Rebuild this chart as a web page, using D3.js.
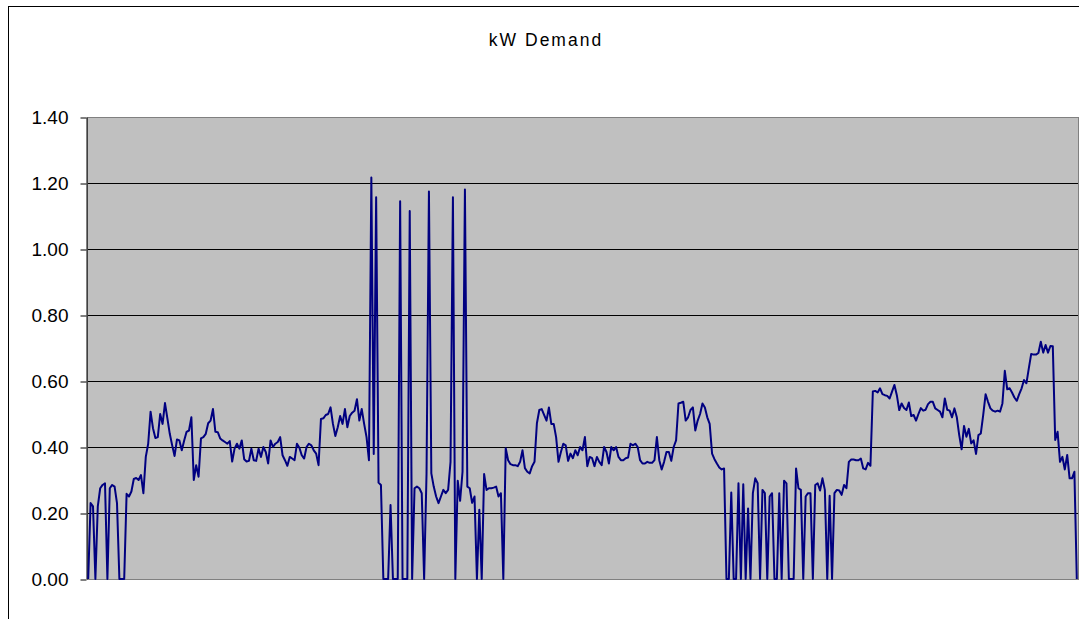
<!DOCTYPE html>
<html>
<head>
<meta charset="utf-8">
<script src="https://cdn.jsdelivr.net/npm/d3@7"></script>
<style>
  html, body { margin: 0; padding: 0; background: #fff; }
  svg { display: block; }
</style>
</head>
<body>
<svg id="chart" width="1079" height="619"></svg>
<script>
const title = "kW Demand";
const yTicks = [0, 0.2, 0.4, 0.6, 0.8, 1.0, 1.2, 1.4];
const demand = [
  0, 0.23, 0.22, 0, 0.22, 0.275, 0.285, 0.29, 0, 0.275,
  0.285, 0.28, 0.23, 0, 0, 0, 0.258, 0.25, 0.265, 0.303,
  0.306, 0.30, 0.315, 0.26, 0.37, 0.41, 0.507, 0.457, 0.427, 0.43,
  0.50, 0.47, 0.533, 0.487, 0.44, 0.405, 0.373, 0.423, 0.42, 0.39,
  0.42, 0.446, 0.45, 0.49, 0.30, 0.345, 0.31, 0.426, 0.43, 0.44,
  0.472, 0.48, 0.515, 0.446, 0.445, 0.426, 0.42, 0.415, 0.41, 0.418,
  0.356, 0.395, 0.41, 0.395, 0.42, 0.363, 0.356, 0.358, 0.395, 0.36,
  0.358, 0.395, 0.37, 0.40, 0.385, 0.35, 0.42, 0.40, 0.41, 0.415,
  0.43, 0.375, 0.36, 0.343, 0.37, 0.365, 0.36, 0.41, 0.398, 0.375,
  0.365, 0.40, 0.41, 0.405, 0.39, 0.38, 0.345, 0.485, 0.487, 0.497,
  0.50, 0.52, 0.47, 0.433, 0.46, 0.494, 0.47, 0.515, 0.46, 0.494,
  0.504, 0.51, 0.545, 0.48, 0.515, 0.47, 0.43, 0.36, 1.217, 0.379,
  1.157, 0.292, 0.285, 0, 0, 0, 0.224, 0, 0, 0,
  1.145, 0, 0, 0, 1.115, 0, 0.275, 0.28, 0.275, 0.26,
  0, 0.32, 1.174, 0.32, 0.28, 0.25, 0.23, 0.25, 0.27, 0.26,
  0.27, 0.355, 1.157, 0, 0.298, 0.237, 0.325, 1.18, 0.28, 0.275,
  0.231, 0.25, 0, 0.21, 0, 0.318, 0.27, 0.275, 0.275, 0.277,
  0.28, 0.25, 0.26, 0, 0.396, 0.36, 0.348, 0.345, 0.345, 0.342,
  0.355, 0.39, 0.336, 0.325, 0.32, 0.342, 0.355, 0.472, 0.512, 0.515,
  0.497, 0.48, 0.52, 0.47, 0.47, 0.43, 0.355, 0.385, 0.41, 0.405,
  0.358, 0.38, 0.366, 0.39, 0.375, 0.40, 0.39, 0.43, 0.342, 0.37,
  0.366, 0.342, 0.37, 0.355, 0.345, 0.40, 0.385, 0.35, 0.40, 0.39,
  0.40, 0.37, 0.36, 0.36, 0.366, 0.368, 0.41, 0.405, 0.41, 0.40,
  0.36, 0.35, 0.35, 0.355, 0.352, 0.352, 0.36, 0.43, 0.36, 0.332,
  0.355, 0.385, 0.385, 0.358, 0.40, 0.42, 0.532, 0.534, 0.537, 0.48,
  0.49, 0.512, 0.52, 0.45, 0.48, 0.50, 0.532, 0.52, 0.49, 0.47,
  0.38, 0.363, 0.35, 0.338, 0.332, 0.335, 0, 0, 0.262, 0,
  0, 0.29, 0, 0.287, 0, 0.214, 0, 0.26, 0.305, 0.29,
  0, 0.27, 0.26, 0, 0.25, 0.26, 0, 0, 0.26, 0,
  0.298, 0.29, 0, 0, 0, 0.335, 0.275, 0.27, 0, 0.25,
  0.26, 0.26, 0, 0.285, 0.29, 0.268, 0.305, 0.27, 0, 0.252,
  0, 0.26, 0.27, 0.268, 0.255, 0.285, 0.275, 0.355, 0.362, 0.362,
  0.36, 0.36, 0.365, 0.335, 0.332, 0.352, 0.343, 0.568, 0.57, 0.565,
  0.578, 0.56, 0.557, 0.555, 0.547, 0.568, 0.588, 0.557, 0.512, 0.532,
  0.518, 0.512, 0.535, 0.494, 0.497, 0.48, 0.50, 0.518, 0.51, 0.513,
  0.53, 0.537, 0.537, 0.517, 0.512, 0.507, 0.49, 0.547, 0.513, 0.51,
  0.49, 0.517, 0.49, 0.436, 0.393, 0.464, 0.431, 0.455, 0.411, 0.42,
  0.379, 0.436, 0.441, 0.497, 0.56, 0.537, 0.517, 0.51, 0.507, 0.51,
  0.507, 0.532, 0.631, 0.575, 0.578, 0.565, 0.55, 0.54, 0.56, 0.578,
  0.603, 0.593, 0.638, 0.682, 0.68, 0.68, 0.685, 0.719, 0.686, 0.709,
  0.686, 0.706, 0.705, 0.421, 0.446, 0.355, 0.37, 0.332, 0.376, 0.305,
  0.305, 0.325, 0
];
const categories = demand.map((d, i) => i + 1);

const svg = d3.select("#chart");
const W = 1079, H = 619;
const plot = { left: 87, right: 1078, top: 117, bottom: 579 };

// outer chart frame
svg.append("rect")
  .attr("x", 8.5).attr("y", 6.5)
  .attr("width", W + 20).attr("height", H + 20)
  .attr("fill", "#fff").attr("stroke", "#000").attr("stroke-width", 1);

const x = d3.scalePoint()
  .domain(categories)
  .range([plot.left, plot.right])
  .padding(0.5);
const y = d3.scaleLinear()
  .domain([0, 1.4])
  .range([plot.bottom, plot.top]);

// plot background
svg.append("rect")
  .attr("x", plot.left).attr("y", plot.top)
  .attr("width", plot.right - plot.left)
  .attr("height", plot.bottom - plot.top)
  .attr("fill", "#C0C0C0");

// gridlines
svg.append("g")
  .selectAll("line")
  .data(yTicks.filter(t => t > 0 && t < 1.4))
  .join("line")
  .attr("x1", plot.left).attr("x2", plot.right)
  .attr("y1", d => Math.round(y(d)) + 0.5)
  .attr("y2", d => Math.round(y(d)) + 0.5)
  .attr("stroke", "#000").attr("stroke-width", 1);

// plot border (grey)
svg.append("rect")
  .attr("x", plot.left + 0.5).attr("y", plot.top + 0.5)
  .attr("width", plot.right - plot.left)
  .attr("height", plot.bottom - plot.top)
  .attr("fill", "none").attr("stroke", "#808080").attr("stroke-width", 1);

// y axis
const yAxis = d3.axisLeft(y)
  .tickValues(yTicks)
  .tickSize(6)
  .tickSizeOuter(0)
  .tickPadding(12)
  .tickFormat(d3.format(".2f"));
const gy = svg.append("g")
  .attr("transform", `translate(${plot.left - 0.5},0)`)
  .call(yAxis);
gy.select(".domain").attr("stroke", "#000");
gy.selectAll(".tick line").attr("stroke", "#000")
  .attr("transform", "translate(0,0.5)");
gy.selectAll(".tick text")
  .attr("fill", "#000")
  .style("font-family", "'Liberation Sans', Arial, sans-serif")
  .style("font-size", "19px");

// line
const line = d3.line()
  .x((d, i) => x(categories[i]))
  .y(d => y(d));
svg.append("path")
  .datum(demand)
  .attr("d", line)
  .attr("fill", "none")
  .attr("stroke", "#000080")
  .attr("stroke-width", 2)
  .attr("stroke-linejoin", "round");

// title
svg.append("text")
  .attr("x", 546).attr("y", 46)
  .attr("text-anchor", "middle")
  .style("font-family", "'Liberation Sans', Arial, sans-serif")
  .style("font-size", "17.5px")
  .style("letter-spacing", "2px")
  .attr("fill", "#000")
  .text(title);
</script>
</body>
</html>
